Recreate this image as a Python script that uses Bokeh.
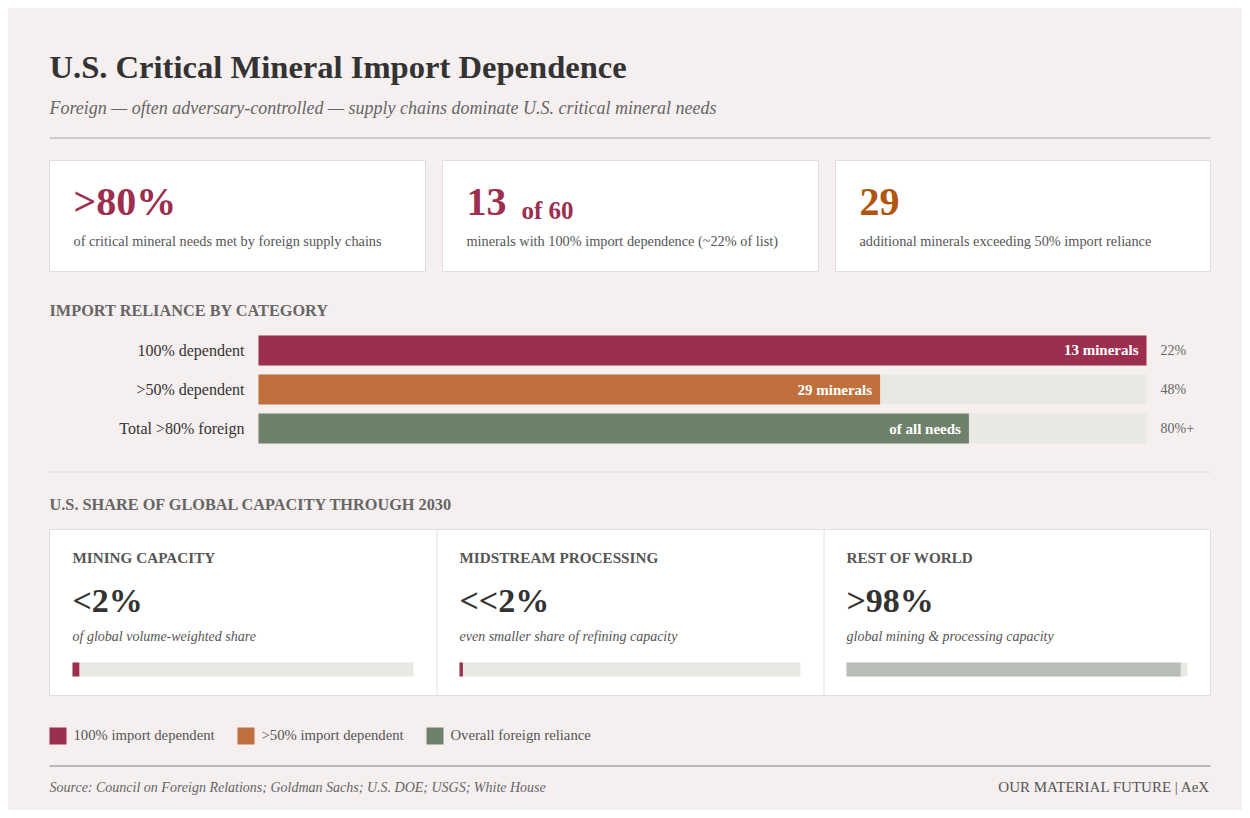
from bokeh.plotting import figure
from bokeh.layouts import column
from bokeh.models import Range1d, FactorRange
from bokeh.core.properties import value
from bokeh.embed import file_html
from bokeh.resources import INLINE

# ---------------- data ----------------
title = "U.S. Critical Mineral Import Dependence"
subtitle = "Foreign \u2014 often adversary-controlled \u2014 supply chains dominate U.S. critical mineral needs"

kpi_values = [">80%", "13", "29"]
kpi_suffix = ["", "of 60", ""]
kpi_desc = [
    "of critical mineral needs met by foreign supply chains",
    "minerals with 100% import dependence (~22% of list)",
    "additional minerals exceeding 50% import reliance",
]

section1 = "IMPORT RELIANCE BY CATEGORY"
bar_categories = ["100% dependent", ">50% dependent", "Total >80% foreign"]
bar_values = [100, 70, 80]
bar_inner_labels = ["13 minerals", "29 minerals", "of all needs"]
bar_share_labels = ["22%", "48%", "80%+"]

section2 = "U.S. SHARE OF GLOBAL CAPACITY THROUGH 2030"
cap_titles = ["MINING CAPACITY", "MIDSTREAM PROCESSING", "REST OF WORLD"]
cap_values = ["<2%", "<<2%", ">98%"]
cap_desc = [
    "of global volume-weighted share",
    "even smaller share of refining capacity",
    "global mining & processing capacity",
]
cap_shares = [2, 1, 98]

legend_labels = ["100% import dependent", ">50% import dependent", "Overall foreign reliance"]
source = "Source: Council on Foreign Relations; Goldman Sachs; U.S. DOE; USGS; White House"
brand = "OUR MATERIAL FUTURE | AeX"

# ---------------- style ----------------
FONT = "Liberation Serif"
BG = "#f5efef"
CARD_BORDER = "#e2dede"
CRIMSON = "#9c2e4f"
ORANGE = "#c0703c"
ORANGE_TXT = "#b0560f"
GREEN = "#6e826b"
TRACK = "#e9e9e3"
GREY_BAR = "#b8bdb8"
DARK = "#333333"
MID = "#555555"
LIGHT = "#666666"
RULE = "#a9a5a5"

W = 1234


def make_fig(h, x_range, y_range, **kw):
    p = figure(width=W, height=h, x_range=x_range, y_range=y_range,
               output_backend="svg", toolbar_location=None, tools="",
               x_axis_location=None, y_axis_location=None,
               min_border=0, min_border_left=0, min_border_right=0,
               min_border_top=0, min_border_bottom=0, **kw)
    p.background_fill_color = BG
    p.border_fill_color = BG
    p.outline_line_color = None
    p.grid.visible = False
    return p


def txt(p, x, y, s, size, color, style="normal", align="left", baseline="middle", y_offset=0, **kw):
    p.text(x=x, y=y, text=s, text_font=value(FONT), text_font_size=value(f"{size}px"),
           text_font_style=style, text_color=color, text_align=align,
           text_baseline=baseline, y_offset=y_offset, **kw)


# ---------------- header figure ----------------
H1 = 317
f1 = make_fig(H1, Range1d(0, W), Range1d(H1, 0))
txt(f1, [41], [58.5], [title], 32.6, DARK, "bold")
txt(f1, [41], [99.5], [subtitle], 18, LIGHT, "italic")
f1.segment(x0=[41], y0=[129.5], x1=[1202], y1=[129.5], line_color=RULE, line_width=1.2)

card_l = [41, 434, 827]
card_r = [417, 810, 1202]
f1.quad(left=card_l, right=card_r, top=[152] * 3, bottom=[263] * 3,
        fill_color="white", line_color=CARD_BORDER, line_width=1)
kx = [l + 24 for l in card_l]
txt(f1, kx, [193] * 3, kpi_values, 40, [CRIMSON, CRIMSON, ORANGE_TXT], "bold")
txt(f1, [kx[1] + 55], [202], [kpi_suffix[1]], 25, CRIMSON, "bold")
txt(f1, kx, [232] * 3, kpi_desc, 14.3, MID)
txt(f1, [41], [301.5], [section1], 16.3, LIGHT, "bold")

# ---------------- bar figure ----------------
H2 = 128
track_l, track_r = 250, 1138
span = track_r - track_l
xr = Range1d(-track_l / span * 100, 100 + (W - track_r) / span * 100)
yr = FactorRange(factors=list(reversed(bar_categories)), range_padding=0.141,
                 range_padding_units="absolute")
f2 = make_fig(H2, xr, yr)
bar_h = 30 / 39
f2.hbar(y=bar_categories, left=0, right=[100] * 3, height=bar_h,
        fill_color=TRACK, line_color=None)
f2.hbar(y=bar_categories, left=0, right=bar_values, height=bar_h,
        fill_color=[CRIMSON, ORANGE, GREEN], line_color=None)
txt(f2, [0] * 3, bar_categories, bar_categories, 16, DARK, align="right", x_offset=-14)
txt(f2, bar_values, bar_categories, bar_inner_labels, 15, "white", "bold",
    align="right", x_offset=-8)
txt(f2, [100] * 3, bar_categories, bar_share_labels, 14, LIGHT, x_offset=14)

# ---------------- lower figure ----------------
H3 = 357
f3 = make_fig(H3, Range1d(0, W), Range1d(H3, 0))
f3.segment(x0=[41], y0=[18.5], x1=[1202], y1=[18.5], line_color="#dedada", line_width=1)
txt(f3, [41], [50.5], [section2], 16.3, LIGHT, "bold")

f3.quad(left=[41], right=[1202], top=[76], bottom=[242],
        fill_color="white", line_color=CARD_BORDER, line_width=1)
f3.segment(x0=[428.5, 815.5], y0=[76, 76], x1=[428.5, 815.5], y1=[242, 242],
           line_color=CARD_BORDER, line_width=1)

cx = [64, 451, 838]
tw = 341
txt(f3, cx, [104] * 3, cap_titles, 15.2, MID, "bold")
txt(f3, cx, [146.5] * 3, cap_values, 34, DARK, "bold")
txt(f3, cx, [182.5] * 3, cap_desc, 14, MID, "italic")
cap_colors = [CRIMSON, CRIMSON, GREY_BAR]
for i, L in enumerate(cx):
    name = f"c{i}"
    f3.extra_x_ranges[name] = Range1d(-L / tw * 100, (W - L) / tw * 100)
    f3.hbar(y=[216], left=0, right=[100], height=14, fill_color=TRACK,
            line_color=None, x_range_name=name)
    f3.hbar(y=[216], left=0, right=[cap_shares[i]], height=14,
            fill_color=cap_colors[i], line_color=None, x_range_name=name)

lg_x = [41, 229, 418]
f3.quad(left=lg_x, right=[x + 17 for x in lg_x], top=[274] * 3, bottom=[291] * 3,
        fill_color=[CRIMSON, ORANGE, GREEN], line_color=None)
txt(f3, [x + 24 for x in lg_x], [281.5] * 3, legend_labels, 14.7, MID)

f3.segment(x0=[41], y0=[312.5], x1=[1202], y1=[312.5], line_color=RULE, line_width=1.5)
txt(f3, [41], [333.5], [source], 14, LIGHT, "italic")
txt(f3, [1202], [333], [brand], 15, MID, align="right")

layout = column(f1, f2, f3, spacing=0, margin=(8, 8, 8, 8),
                styles={"background-color": BG})
open("out.html", "w").write(file_html(layout, INLINE))
